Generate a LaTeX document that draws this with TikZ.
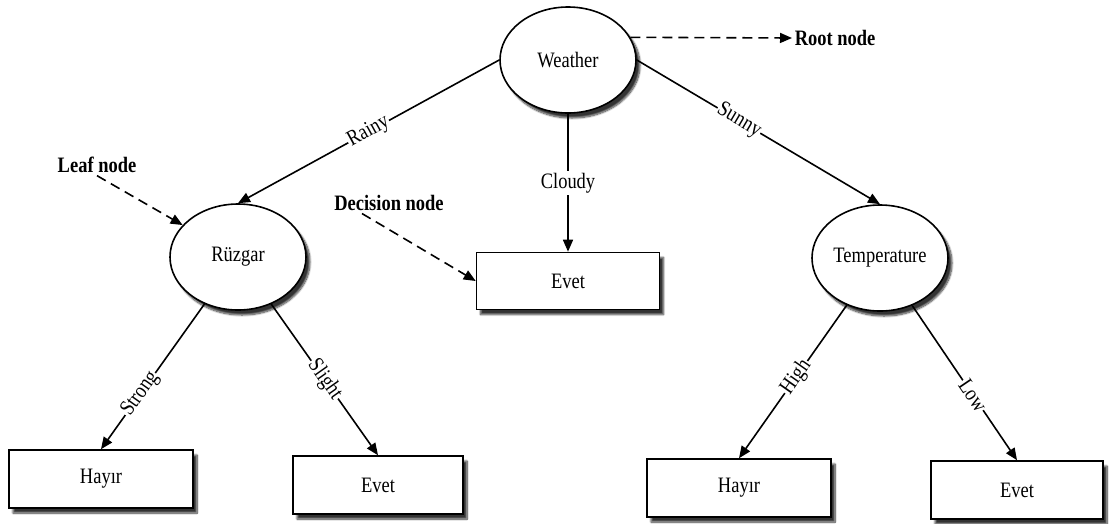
\documentclass[tikz,border=0pt]{standalone}
\usepackage{fontspec}
\setmainfont{Liberation Serif}[FakeStretch=0.84]
\usetikzlibrary{shapes.geometric,arrows.meta,shadows.blur}
\begin{document}
\begin{tikzpicture}[x=1pt,y=-1pt,
  font=\fontsize{22}{24}\selectfont,
  every path/.style={line width=1.6pt},
  shade/.style={blur shadow={shadow xshift=4pt,shadow yshift=-5pt,shadow blur steps=10,shadow opacity=80}},
  test/.style={ellipse,draw,fill=white,minimum width=136pt,minimum height=106pt,inner sep=0pt,shade},
  leafbox/.style={rectangle,draw,fill=white,minimum width=184pt,minimum height=58pt,inner sep=0pt,shade},
  branch/.style={-{Triangle[length=12pt,width=10pt]}},
  pointer/.style={dashed,dash pattern=on 10pt off 6pt,-{Triangle[length=12pt,width=10pt]}},
  lbl/.style={midway,sloped,fill=white,inner sep=1pt},
  flat/.style={midway,fill=white,inner sep=2pt},
  note/.style={font=\fontsize{22}{24}\selectfont\bfseries,inner sep=2pt}]
\useasboundingbox (0,0) rectangle (1110,523);

% internal tests
\node[test] (weather) at (568,60) {Weather};
\node[test] (ruz) at (238,257) {Rüzgar};
\node[test] (temp) at (880,258) {Temperature};

% outcomes
\node[leafbox,minimum width=183pt,minimum height=57pt] (evmid) at (568,281) {Evet};
\node[leafbox] (hay1) at (101,479) {Hayır};
\node[leafbox,minimum width=170pt] (ev1) at (378,485) {Evet};
\node[leafbox] (hay2) at (739,488) {Hayır};
\node[leafbox,minimum width=172pt] (ev2) at (1017,490) {Evet};

% branches
\draw[branch] (weather.west) -- node[lbl,pos=0.5] {Rainy} (ruz.north);
\draw[branch] (weather.south) -- node[flat,pos=0.5] {Cloudy} (evmid.north);
\draw[branch] (weather.east) -- node[lbl,pos=0.42] {Sunny} (temp.north);
\draw[branch] (ruz) -- node[lbl,pos=0.62] {Strong} (hay1.north);
\draw[branch] (ruz) -- node[lbl,pos=0.5] {Slight} (ev1.north);
\draw[branch] (temp) -- node[lbl,pos=0.47] {High} (hay2.north);
\draw[branch] (temp) -- node[lbl,pos=0.58] {Low} (ev2.north);

% annotations
\node[note,anchor=west] (rootlbl) at (792,38) {Root node};
\node[note] (leaflbl) at (97,165) {Leaf node};
\node[note] (declbl) at (389,203) {Decision node};
\coordinate (decstart) at ([xshift=-27pt]declbl.south);

\draw[pointer] (weather.20) -- (rootlbl.west);
\draw[pointer] (leaflbl.south) -- (ruz.150);
\draw[pointer] (decstart) -- (evmid.west);
\end{tikzpicture}
\end{document}
